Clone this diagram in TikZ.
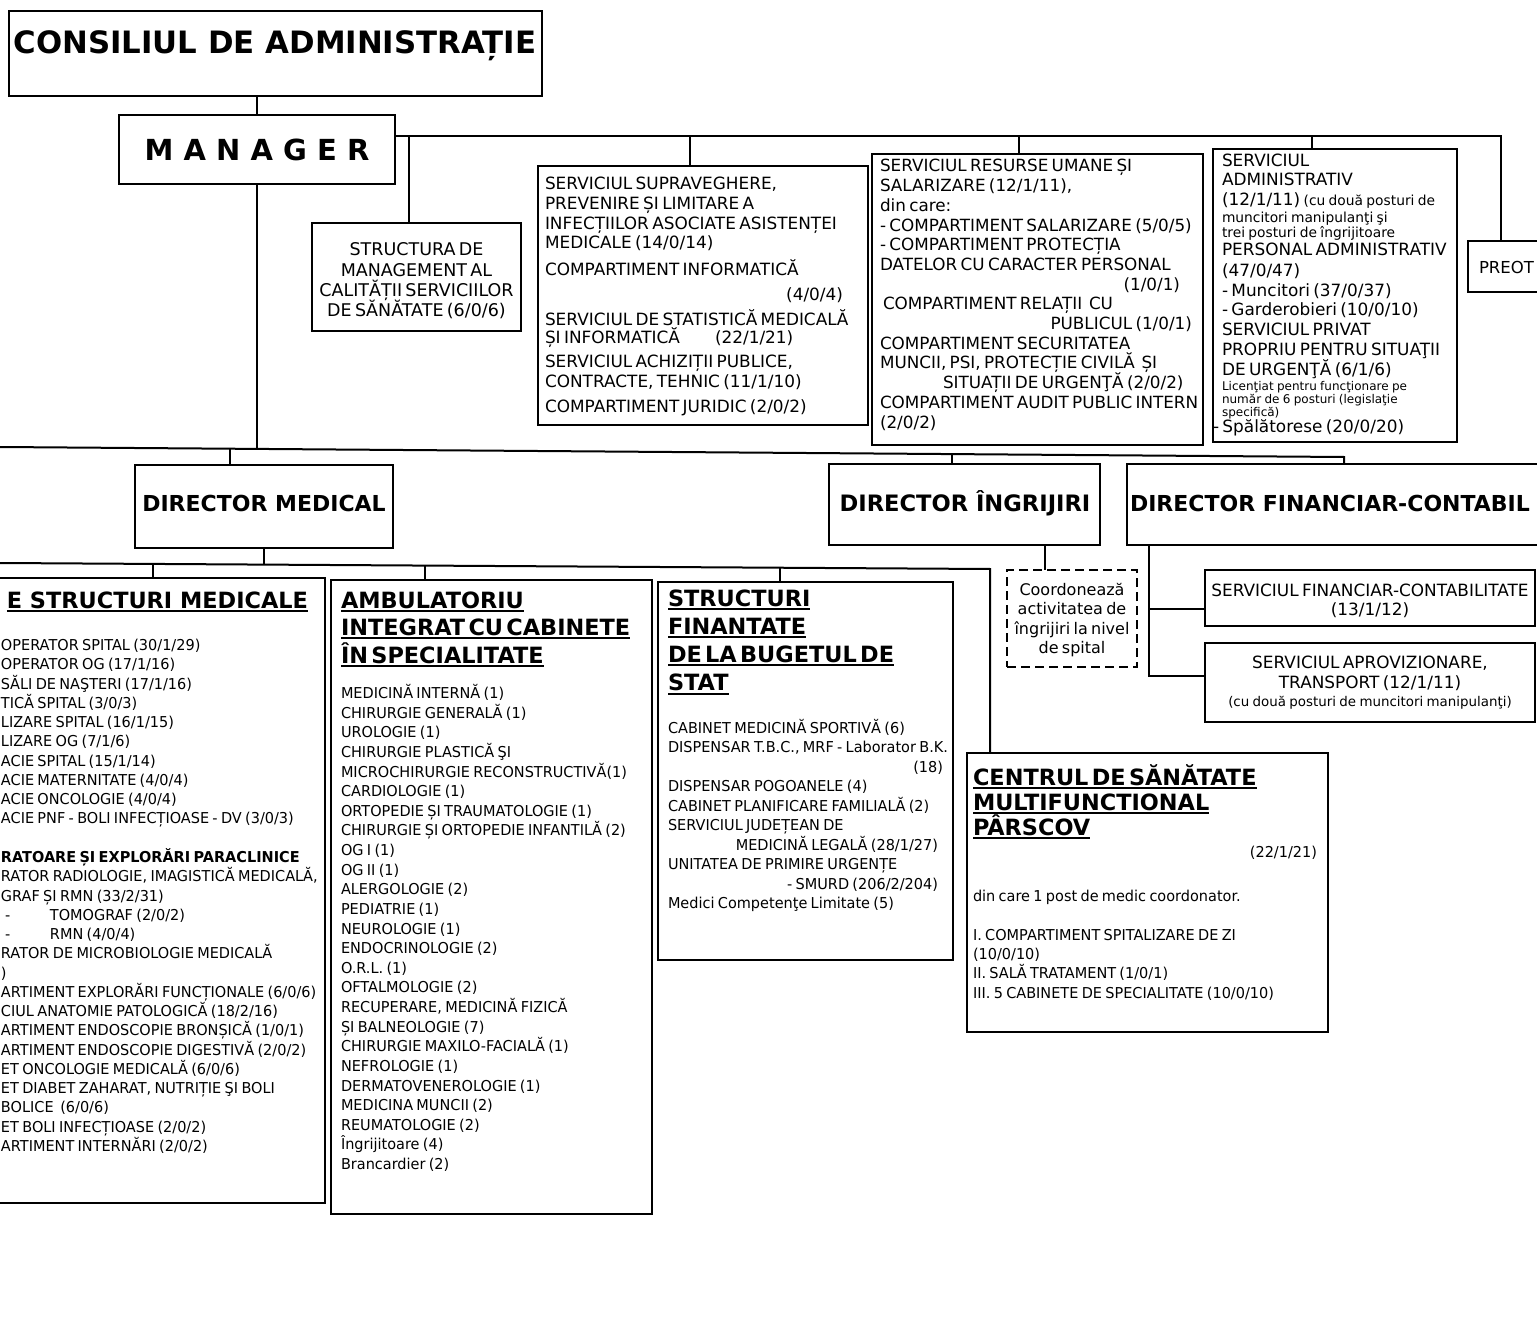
\documentclass[tikz,border=0pt]{standalone}
\usepackage{fontspec}
\setmainfont{DejaVu Sans}
\newfontfamily\tah{DejaVu Sans}[FakeStretch=0.965]
\usetikzlibrary{calc}
\newcommand\fsz[2]{\fontsize{#1}{#2}\selectfont\lineskiplimit=-60pt\relax}
\newcommand\myul[1]{\leavevmode\setbox0=\hbox{#1}\rlap{\rule[-3.6pt]{\wd0}{1.8pt}}\box0}
\newcommand\rbox[2]{\leavevmode\hbox to #1pt{\hfil #2}}
\newcommand\lbox[2]{\leavevmode\hbox to #1pt{#2\hfil}}
\begin{document}
\begin{tikzpicture}[x=1pt,y=-1pt,
  bx/.style={draw, line width=2pt, inner sep=0pt, outer sep=0pt, anchor=north west},
  bbx/.style={bx, line width=2.4pt},
  ln/.style={line width=2pt},
  tl/.style={inner sep=0pt, outer sep=0pt, anchor=base west, align=left, text width=440pt},
  tc/.style={inner sep=0pt, outer sep=0pt, anchor=base, align=center, text width=#1},
  tt/.style={inner sep=0pt, outer sep=0pt}]
\useasboundingbox (0,0) rectangle (1537,1321);
\clip (0,0) rectangle (1537,1321);

% ---------- boxes ----------
\node[bx, minimum width=533pt, minimum height=85pt] (cons) at (9,11) {};
\node[bx, minimum width=276pt, minimum height=69pt] (mgr) at (119,115) {};
\node[bx, minimum width=209pt, minimum height=108pt] (sms) at (312,223) {};
\node[bx, minimum width=330pt, minimum height=259pt] (sup) at (538,166) {};
\node[bx, minimum width=331pt, minimum height=291pt] (rum) at (872,154) {};
\node[bx, minimum width=244pt, minimum height=293pt] (adm) at (1213,149) {};
\node[bx, minimum width=100pt, minimum height=51pt] (preot) at (1468,241) {};
\node[bx, minimum width=258pt, minimum height=83pt] (dm) at (135,465) {};
\node[bx, minimum width=271pt, minimum height=81pt] (di) at (829,464) {};
\node[bx, minimum width=440pt, minimum height=81pt] (dfc) at (1127,464) {};
\node[bbx, minimum width=335pt, minimum height=625pt] (lbox) at (-10,578) {};
\node[bbx, minimum width=321pt, minimum height=634pt] (amb) at (331,580) {};
\node[bbx, minimum width=295pt, minimum height=378pt] (str) at (658,582) {};
\node[bbx, minimum width=361pt, minimum height=279pt] (csm) at (967,753) {};
\node[bx, dash pattern=on 9pt off 5pt, minimum width=130pt, minimum height=97pt] (coo) at (1007,570) {};
\node[bx, minimum width=330pt, minimum height=56pt] (fin1) at (1205,570) {};
\node[bx, minimum width=330pt, minimum height=79pt] (fin2) at (1205,643) {};

% ---------- connectors ----------
\draw[ln] (mgr.north) -- (mgr.north |- cons.south);
\coordinate (tb0) at ($(mgr.north east)+(0,21)$);
\coordinate (tb1) at (1501,136);
\draw[ln] (tb0) -- (tb1) -- (tb1 |- preot.north);
\coordinate (tq1) at (409,136);  \draw[ln] (tq1) -- (tq1 |- sms.north);
\coordinate (tq2) at (690,136);  \draw[ln] (tq2) -- (tq2 |- sup.north);
\coordinate (tq3) at (1019,136); \draw[ln] (tq3) -- (tq3 |- rum.north);
\coordinate (tq4) at (1312,136); \draw[ln] (tq4) -- (tq4 |- adm.north);

\coordinate (b1L) at (0,447);
\coordinate (b1R) at (1344,457);
\draw[ln] (b1L) -- (b1R) -- (b1R |- dfc.north);
\coordinate (b1m) at (257,448.9); \draw[ln] (mgr.south) -- (b1m);
\coordinate (b1a) at (230,448.7); \draw[ln] (b1a) -- (b1a |- dm.north);
\coordinate (b1b) at (952,454.1); \draw[ln] (b1b) -- (b1b |- di.north);

\coordinate (b2L) at (0,563);
\coordinate (b2R) at (990,569);
\draw[ln] (b2L) -- (b2R) -- (b2R |- csm.north);
\coordinate (b2d) at (264,564.6); \draw[ln] (dm.south) -- (b2d);
\coordinate (b2a) at (153,563.9); \draw[ln] (b2a) -- (b2a |- lbox.north);
\coordinate (b2b) at (425,565.6); \draw[ln] (b2b) -- (b2b |- amb.north);
\coordinate (b2c) at (780,567.7); \draw[ln] (b2c) -- (b2c |- str.north);

\coordinate (dic) at ($(di.south west)+(216,0)$);
\draw[ln] (dic) -- (dic |- coo.north);
\coordinate (dfv) at ($(dfc.south west)+(21.5,0)$);
\coordinate (fb1) at (1148.5,609);
\coordinate (fb2) at (1148.5,676);
\draw[ln] (dfv) -- (fb2) -- (fb2 -| fin2.west);
\draw[ln] (fb1) -- (fb1 -| fin1.west);

% ---------- titles ----------
\node[tt, anchor=base] (constx) at (275,54) {\fsz{30.8}{36}\bfseries CONSILIUL DE ADMINISTRAȚIE};
\node[tt, anchor=base] (mgrtx) at (257,160.6) {\fsz{29}{34}\bfseries\makebox[225pt][s]{M A N A G E R}};
\node[tt, anchor=base] (dmtx) at (264,511) {\fsz{22}{26}\bfseries DIRECTOR MEDICAL};
\node[tt, anchor=base] (ditx) at (965,511) {\fsz{22.6}{26}\bfseries DIRECTOR ÎNGRIJIRI};
\node[tt, anchor=base west] (dfctx) at (1130,511) {\fsz{22}{26}\bfseries DIRECTOR FINANCIAR-CONTABIL};
\node[tt, anchor=base west] (prtx) at (1479,274) {\fsz{16.5}{19}PREOT};

% ---------- top services ----------
\node[tc=209pt] (smstx) at (416.5,256) {\fsz{17.5}{20.3}STRUCTURA DE\\MANAGEMENT AL\\CALITĂȚII SERVICIILOR\\DE SĂNĂTATE (6/0/6)\par};

\node[tl] (suptx) at (545,190) {\fsz{16.9}{20}SERVICIUL SUPRAVEGHERE,\\
PREVENIRE ȘI LIMITARE A\\
INFECȚIILOR ASOCIATE ASISTENȚEI\\[-1pt]
MEDICALE (14/0/14)\\[7pt]
COMPARTIMENT INFORMATICĂ\\[5pt]
\rbox{298}{(4/0/4)}\\[5pt]
SERVICIUL DE STATISTICĂ MEDICALĂ\\[-2pt]
\lbox{170}{ȘI INFORMATICĂ}(22/1/21)\\[4pt]
SERVICIUL ACHIZIȚII PUBLICE,\\
CONTRACTE, TEHNIC (11/1/10)\\[5pt]
COMPARTIMENT JURIDIC (2/0/2)\par};

\node[tl] (rumtx) at (880,172) {\fsz{16.8}{19.7}SERVICIUL RESURSE UMANE ȘI\\
SALARIZARE (12/1/11),\\
din care:\\
- COMPARTIMENT SALARIZARE (5/0/5)\\
- COMPARTIMENT PROTECȚIA\\
DATELOR CU CARACTER PERSONAL\\
\rbox{300}{(1/0/1)}\\
\hspace*{3pt}COMPARTIMENT RELAȚII\ \ CU\\
\rbox{312}{PUBLICUL (1/0/1)}\\
COMPARTIMENT SECURITATEA\\
MUNCII, PSI, PROTECȚIE CIVILĂ\ \ ȘI\\
\hspace*{63pt}SITUAȚII DE URGENŢĂ (2/0/2)\\
COMPARTIMENT AUDIT PUBLIC INTERN\\
(2/0/2)\par};

\node[tl] (admtx) at (1222,167) {\fsz{16.9}{19}SERVICIUL\\
ADMINISTRATIV\\[1pt]
(12/1/11) {\fsz{13.8}{14}(cu două posturi de}\\[-2pt]
{\fsz{13.8}{14}muncitori manipulanţi şi}\\[-4pt]
{\fsz{13.8}{14}trei posturi de îngrijitoare}\\[-1pt]
PERSONAL ADMINISTRATIV\\[2pt]
(47/0/47)\\[1pt]
- Muncitori (37/0/37)\\
- Garderobieri (10/0/10)\\[1pt]
SERVICIUL PRIVAT\\[1pt]
PROPRIU PENTRU SITUAŢII\\[1pt]
DE URGENŢĂ (6/1/6)\\[-4pt]
{\fsz{12}{13}Licenţiat pentru funcţionare pe}\\[-6pt]
{\fsz{12}{13}număr de 6 posturi (legislaţie}\\[-6pt]
{\fsz{12}{13}specifică)}\\[-3pt]
\hspace*{-9pt}- Spălătorese (20/0/20)\par};

% ---------- financial / nursing ----------
\node[tc=132pt] (cootx) at (1072,595.5) {\fsz{16}{19.3}Coordonează\\activitatea de\\îngrijiri la nivel\\de spital\par};
\node[tc=340pt] (fin1tx) at (1370,596) {\fsz{16.9}{19}SERVICIUL FINANCIAR-CONTABILITATE\\(13/1/12)\par};
\node[tc=340pt] (fin2tx) at (1370,668) {\fsz{16.9}{20}SERVICIUL APROVIZIONARE,\\TRANSPORT (12/1/11)\\[-1.5pt]{\fsz{13.4}{14}(cu două posturi de muncitori manipulanţi)}\par};

% ---------- medical structures ----------
\node[tt, anchor=base east] (ltit) at (308,608) {\fsz{22.4}{26}\bfseries\myul{E STRUCTURI MEDICALE}};
\node[tl] (lbody) at (1,650.5) {\tah\fsz{15}{19.27}OPERATOR SPITAL (30/1/29)\\
OPERATOR OG (17/1/16)\\
SĂLI DE NAŞTERI (17/1/16)\\
TICĂ SPITAL (3/0/3)\\
LIZARE SPITAL (16/1/15)\\
LIZARE OG (7/1/6)\\
ACIE SPITAL (15/1/14)\\
ACIE MATERNITATE (4/0/4)\\
ACIE ONCOLOGIE (4/0/4)\\
ACIE PNF - BOLI INFECȚIOASE - DV (3/0/3)\\[19.27pt]
{\bfseries RATOARE ȘI EXPLORĂRI PARACLINICE}\\
RATOR RADIOLOGIE, IMAGISTICĂ MEDICALĂ,\\
GRAF ȘI RMN (33/2/31)\\
\lbox{49}{\hspace*{4pt}-}TOMOGRAF (2/0/2)\\
\lbox{49}{\hspace*{4pt}-}RMN (4/0/4)\\
RATOR DE MICROBIOLOGIE MEDICALĂ\\
)\\
ARTIMENT EXPLORĂRI FUNCȚIONALE (6/0/6)\\
CIUL ANATOMIE PATOLOGICĂ (18/2/16)\\
ARTIMENT ENDOSCOPIE BRONȘICĂ (1/0/1)\\
ARTIMENT ENDOSCOPIE DIGESTIVĂ (2/0/2)\\
ET ONCOLOGIE MEDICALĂ (6/0/6)\\
ET DIABET ZAHARAT, NUTRIȚIE ŞI BOLI\\
BOLICE\ \ (6/0/6)\\
ET BOLI INFECȚIOASE (2/0/2)\\
ARTIMENT INTERNĂRI (2/0/2)\par};

\node[tl] (ambtit) at (341,608) {\fsz{22.4}{27.5}\bfseries\myul{AMBULATORIU}\\\myul{INTEGRAT CU CABINETE}\\\myul{ÎN SPECIALITATE}\par};
\node[tl] (ambbody) at (341,698.5) {\tah\fsz{15}{19.63}MEDICINĂ INTERNĂ (1)\\
CHIRURGIE GENERALĂ (1)\\
UROLOGIE (1)\\
CHIRURGIE PLASTICĂ ŞI\\
MICROCHIRURGIE RECONSTRUCTIVĂ(1)\\
CARDIOLOGIE (1)\\
ORTOPEDIE ȘI TRAUMATOLOGIE (1)\\
CHIRURGIE ȘI ORTOPEDIE INFANTILĂ (2)\\
OG I (1)\\
OG II (1)\\
ALERGOLOGIE (2)\\
PEDIATRIE (1)\\
NEUROLOGIE (1)\\
ENDOCRINOLOGIE (2)\\
O.R.L. (1)\\
OFTALMOLOGIE (2)\\
RECUPERARE, MEDICINĂ FIZICĂ\\
ȘI BALNEOLOGIE (7)\\
CHIRURGIE MAXILO-FACIALĂ (1)\\
NEFROLOGIE (1)\\
DERMATOVENEROLOGIE (1)\\
MEDICINA MUNCII (2)\\
REUMATOLOGIE (2)\\
Îngrijitoare (4)\\
Brancardier (2)\par};

\node[tl] (strtit) at (668,606) {\fsz{22.4}{28.3}\bfseries\myul{STRUCTURI}\\\myul{FINANTATE}\\\myul{DE LA BUGETUL DE}\\\myul{STAT}\par};
\node[tl] (strbody) at (668,733.5) {\tah\fsz{15}{19.44}CABINET MEDICINĂ SPORTIVĂ (6)\\
DISPENSAR T.B.C., MRF - Laborator B.K.\\
\rbox{275}{(18)}\\
DISPENSAR POGOANELE (4)\\
CABINET PLANIFICARE FAMILIALĂ (2)\\
SERVICIUL JUDEȚEAN DE\\
\rbox{270}{MEDICINĂ LEGALĂ (28/1/27)}\\
UNITATEA DE PRIMIRE URGENȚE\\
\rbox{270}{- SMURD (206/2/204)}\\
Medici Competenţe Limitate (5)\par};

\node[tl] (csmtit) at (973,785) {\fsz{22.4}{25}\bfseries\myul{CENTRUL DE SĂNĂTATE}\\\myul{MULTIFUNCTIONAL}\\\myul{PÂRSCOV}\par};
\node[tl] (csmbody) at (973,857.5) {\tah\fsz{15}{19.3}\rbox{344}{(22/1/21)}\\[25pt]
din care 1 post de medic coordonator.\\[19pt]
I. COMPARTIMENT SPITALIZARE DE ZI\\
(10/0/10)\\
II. SALĂ TRATAMENT (1/0/1)\\
III. 5 CABINETE DE SPECIALITATE (10/0/10)\par};
\end{tikzpicture}
\end{document}
